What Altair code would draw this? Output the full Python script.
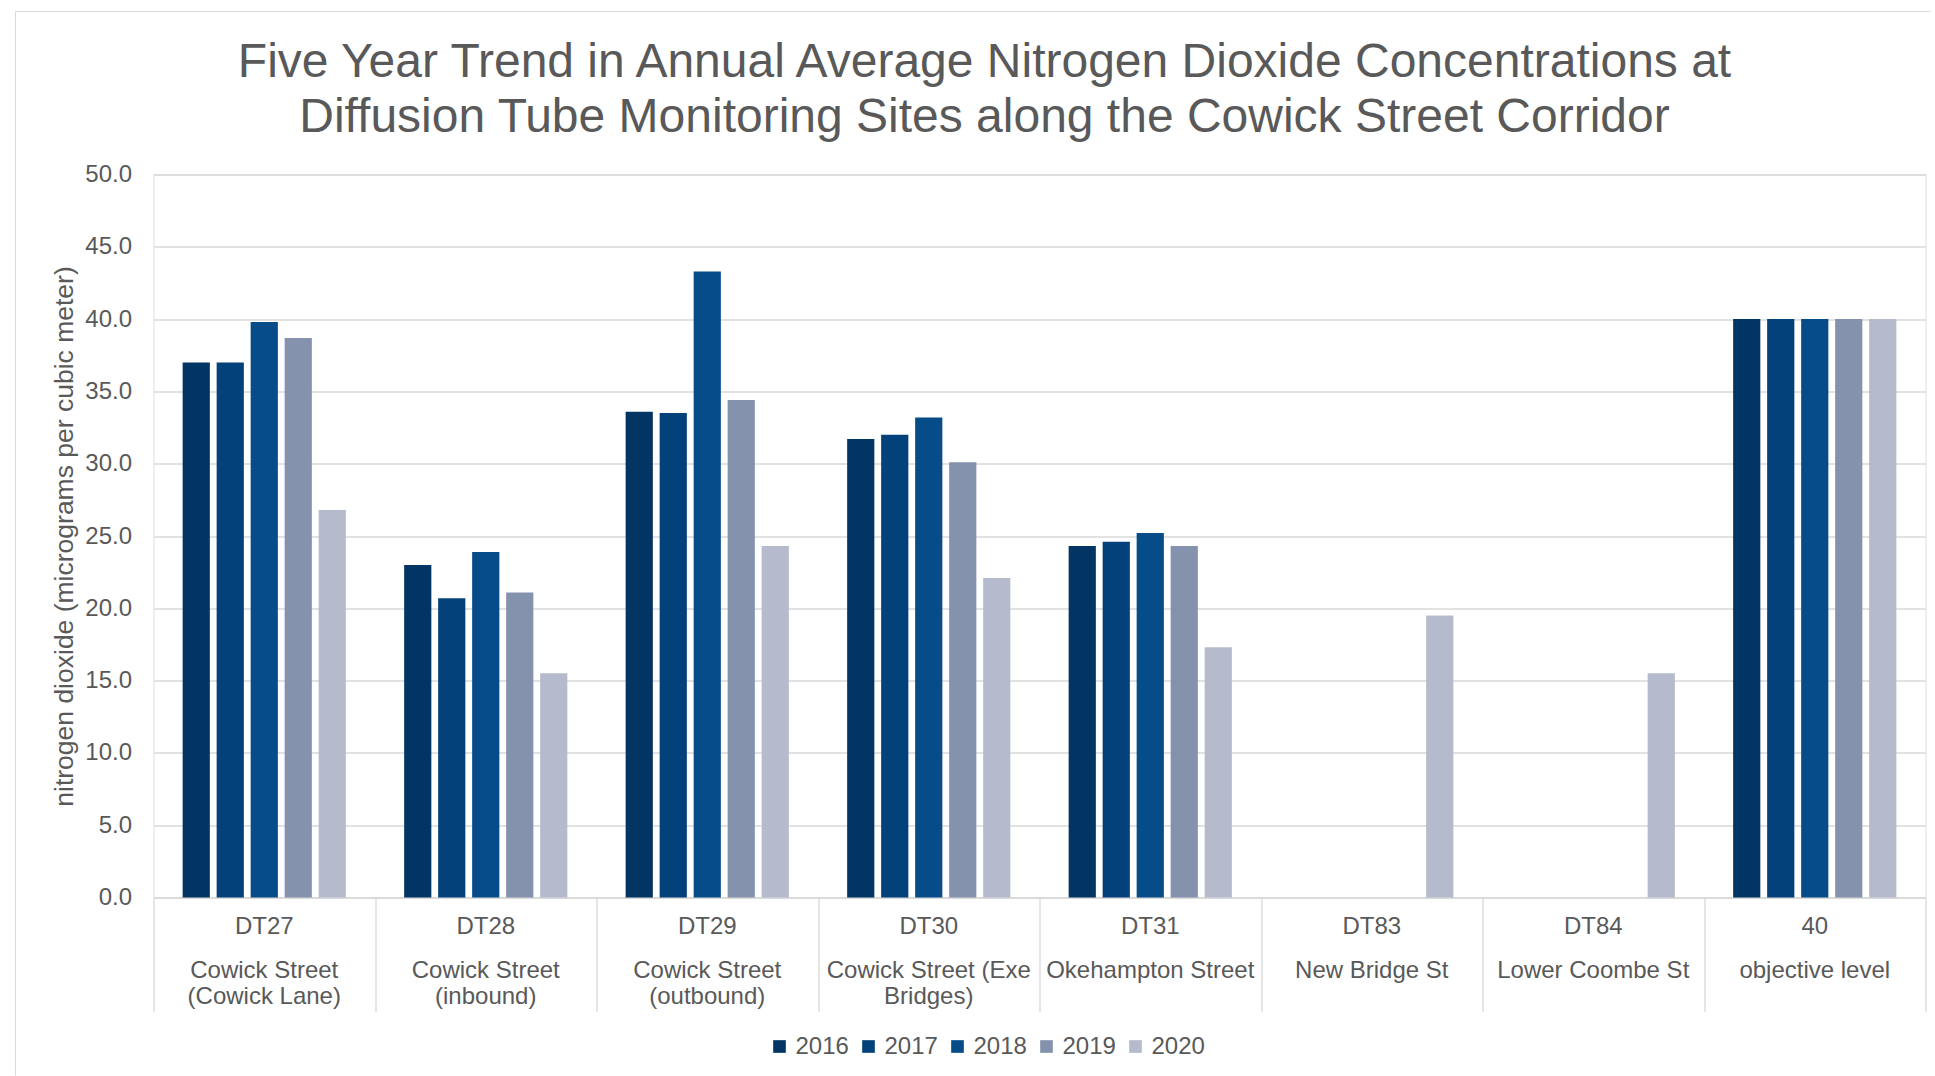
import altair as alt
import pandas as pd

# Monitoring sites (tube code + location) in display order
sites = ["DT27", "DT28", "DT29", "DT30", "DT31", "DT83", "DT84", "40"]
site_names = [
    "Cowick Street\n(Cowick Lane)",
    "Cowick Street\n(inbound)",
    "Cowick Street\n(outbound)",
    "Cowick Street (Exe\nBridges)",
    "Okehampton Street",
    "New Bridge St",
    "Lower Coombe St",
    "objective level",
]
years = ["2016", "2017", "2018", "2019", "2020"]

# Annual mean NO2 (ug/m3) per site, one list per year; None = not monitored
no2_2016 = [37.0, 23.0, 33.6, 31.7, 24.3, None, None, 40.0]
no2_2017 = [37.0, 20.7, 33.5, 32.0, 24.6, None, None, 40.0]
no2_2018 = [39.8, 23.9, 43.3, 33.2, 25.2, None, None, 40.0]
no2_2019 = [38.7, 21.1, 34.4, 30.1, 24.3, None, None, 40.0]
no2_2020 = [26.8, 15.5, 24.3, 22.1, 17.3, 19.5, 15.5, 40.0]

year_colors = ["#033564", "#03417A", "#054C88", "#8592AE", "#B5BBCC"]

chart_title = (
    "Five Year Trend in Annual Average Nitrogen Dioxide Concentrations at\n"
    "Diffusion Tube Monitoring Sites along the Cowick Street Corridor"
)

series = dict(zip(years, [no2_2016, no2_2017, no2_2018, no2_2019, no2_2020]))
rows = []
for yr, vals in series.items():
    for site, v in zip(sites, vals):
        if v is not None:
            rows.append({"site": site, "year": yr, "value": v})
df = pd.DataFrame(rows)
labels_df = pd.DataFrame({"site": sites, "name": site_names})

FONT = "Liberation Sans, Arial, sans-serif"
GREY_TEXT = "#595959"
GRID = "#d9d9d9"
W, H = 1772, 723

x_enc = alt.X(
    "site:N",
    sort=sites,
    scale=alt.Scale(paddingInner=0, paddingOuter=0),
    axis=alt.Axis(
        title=None,
        labels=False,
        ticks=True,
        tickBand="extent",
        tickSize=114,
        tickColor=GRID,
        tickWidth=1.3,
        domainColor=GRID,
        domainWidth=1.3,
        grid=False,
    ),
)

bars = alt.Chart(df).mark_bar().encode(
    x=x_enc,
    xOffset=alt.XOffset(
        "year:N", sort=years, scale=alt.Scale(paddingInner=0.2, paddingOuter=0.857)
    ),
    y=alt.Y(
        "value:Q",
        scale=alt.Scale(domain=[0, 50], nice=False),
        axis=alt.Axis(
            values=list(range(0, 55, 5)),
            format=".1f",
            title="nitrogen dioxide (micrograms per cubic meter)",
            titleFont=FONT,
            titleFontSize=26.5,
            titleFontWeight="normal",
            titleColor=GREY_TEXT,
            titleX=-89,
            titleY=H / 2,
            titleAlign="center",
            titleBaseline="middle",
            labelFont=FONT,
            labelFontSize=24,
            labelColor=GREY_TEXT,
            labelPadding=22,
            ticks=False,
            domain=False,
            grid=True,
            gridColor=GRID,
            gridWidth=1.3,
        ),
    ),
    color=alt.Color(
        "year:N",
        scale=alt.Scale(domain=years, range=year_colors),
        legend=alt.Legend(
            title=None,
            orient="none",
            direction="horizontal",
            legendX=614,
            legendY=H + 137,
            symbolType="square",
            symbolSize=160,
            symbolStrokeWidth=0,
            labelFont=FONT,
            labelFontSize=24,
            labelColor=GREY_TEXT,
            labelOffset=4,
            columnPadding=7,
            padding=0,
        ),
    ),
)

# Two-level category labels below the axis
codes = alt.Chart(labels_df).mark_text(
    font=FONT, fontSize=24, color=GREY_TEXT, align="center", baseline="alphabetic"
).encode(x=alt.X("site:N", sort=sites), y=alt.value(H + 36), text="site:N")

names = alt.Chart(labels_df).mark_text(
    font=FONT,
    fontSize=24,
    color=GREY_TEXT,
    align="center",
    baseline="alphabetic",
    lineBreak="\n",
    lineHeight=26.5,
).encode(x=alt.X("site:N", sort=sites), y=alt.value(H + 80), text="name:N")

# Chart heading, two centred lines above the plot
frame_df = pd.DataFrame({"k": [0]})
heading = alt.Chart(frame_df).mark_text(
    text=chart_title,
    font=FONT,
    fontSize=48,
    color=GREY_TEXT,
    align="center",
    baseline="alphabetic",
    lineBreak="\n",
    lineHeight=55,
).encode(x=alt.value(831), y=alt.value(-97.3))

# Light frame round the chart area
frame_top = alt.Chart(frame_df).mark_rule(color=GRID, strokeWidth=1).encode(
    x=alt.value(-138), x2=alt.value(W + 5), y=alt.value(-163)
)
frame_left = alt.Chart(frame_df).mark_rule(color=GRID, strokeWidth=1).encode(
    x=alt.value(-138), y=alt.value(-163), y2=alt.value(H + 178)
)

chart = (
    alt.layer(frame_top, frame_left, heading, bars, codes, names)
    .properties(
        width=W,
        height=H,
        padding={"left": 14.5, "top": 10.5, "right": 0, "bottom": 0},
    )
    .configure_view(stroke=None)
    .configure(background="white")
)

chart.save("out.html", embed_options={"renderer": "svg", "actions": False})
